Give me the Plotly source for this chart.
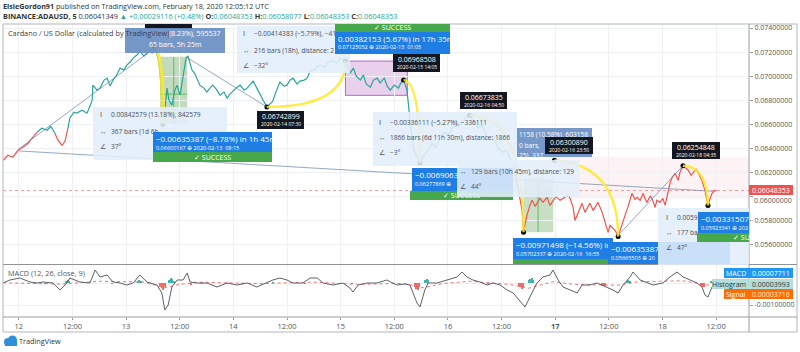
import plotly.graph_objects as go
from datetime import datetime

# ---------------- data ----------------
price_times = [
    "2020-02-11 20:30", "2020-02-11 21:35", "2020-02-11 22:40", "2020-02-11 23:50",
    "2020-02-12 00:55", "2020-02-12 02:05", "2020-02-12 03:10", "2020-02-12 04:05",
    "2020-02-12 05:10", "2020-02-12 06:20", "2020-02-12 07:10", "2020-02-12 08:05",
    "2020-02-12 08:45", "2020-02-12 09:40", "2020-02-12 10:20", "2020-02-12 11:00",
    "2020-02-12 11:25", "2020-02-12 12:20", "2020-02-12 13:00", "2020-02-12 14:10",
    "2020-02-12 15:15", "2020-02-12 15:55", "2020-02-12 16:25", "2020-02-12 16:35",
    "2020-02-12 17:30", "2020-02-12 18:10", "2020-02-12 19:05", "2020-02-12 19:45",
    "2020-02-12 20:25", "2020-02-12 21:05", "2020-02-12 22:00", "2020-02-12 22:40",
    "2020-02-12 23:30", "2020-02-13 00:10", "2020-02-13 00:55", "2020-02-13 01:35",
    "2020-02-13 02:25", "2020-02-13 03:05", "2020-02-13 04:00", "2020-02-13 04:40",
    "2020-02-13 05:20", "2020-02-13 05:50", "2020-02-13 06:30", "2020-02-13 06:55",
    "2020-02-13 07:20", "2020-02-13 07:50", "2020-02-13 08:00", "2020-02-13 08:15",
    "2020-02-13 08:40", "2020-02-13 09:10", "2020-02-13 09:35", "2020-02-13 10:15",
    "2020-02-13 10:55", "2020-02-13 11:25", "2020-02-13 12:05", "2020-02-13 12:45",
    "2020-02-13 13:10", "2020-02-13 13:25", "2020-02-13 13:50", "2020-02-13 14:20",
    "2020-02-13 14:45", "2020-02-13 15:25", "2020-02-13 15:50", "2020-02-13 16:30",
    "2020-02-13 17:25", "2020-02-13 18:05", "2020-02-13 18:45", "2020-02-13 19:25",
    "2020-02-13 20:20", "2020-02-13 21:00", "2020-02-13 21:55", "2020-02-13 22:35",
    "2020-02-13 23:15", "2020-02-13 23:55", "2020-02-14 00:50", "2020-02-14 01:30",
    "2020-02-14 02:25", "2020-02-14 03:05", "2020-02-14 03:45", "2020-02-14 04:25",
    "2020-02-14 05:15", "2020-02-14 06:00", "2020-02-14 06:40", "2020-02-14 07:30",
    "2020-02-14 08:10", "2020-02-14 08:50", "2020-02-14 09:30", "2020-02-14 10:25",
    "2020-02-14 11:20", "2020-02-14 12:00", "2020-02-14 12:40", "2020-02-14 13:20",
    "2020-02-14 14:15", "2020-02-14 14:55", "2020-02-14 15:50", "2020-02-14 16:30",
    "2020-02-14 17:10", "2020-02-14 18:00", "2020-02-14 18:45", "2020-02-14 19:25",
    "2020-02-14 20:30", "2020-02-14 21:10", "2020-02-14 22:15", "2020-02-14 23:10",
    "2020-02-14 23:50", "2020-02-15 01:05", "2020-02-15 01:45", "2020-02-15 02:10",
    "2020-02-15 02:50", "2020-02-15 03:30", "2020-02-15 04:25", "2020-02-15 05:05",
    "2020-02-15 05:45", "2020-02-15 06:40", "2020-02-15 07:20", "2020-02-15 08:10",
    "2020-02-15 08:50", "2020-02-15 09:45", "2020-02-15 10:25", "2020-02-15 11:05",
    "2020-02-15 12:00", "2020-02-15 12:55", "2020-02-15 13:35", "2020-02-15 14:05",
    "2020-02-15 14:50", "2020-02-15 15:15", "2020-02-15 15:45", "2020-02-15 16:25",
    "2020-02-15 17:20", "2020-02-15 17:45", "2020-02-15 18:40", "2020-02-15 19:35",
    "2020-02-15 20:25", "2020-02-15 21:20", "2020-02-15 22:15", "2020-02-15 23:10",
    "2020-02-16 00:00", "2020-02-16 00:55", "2020-02-16 01:50", "2020-02-16 02:40",
    "2020-02-16 03:50", "2020-02-16 04:50", "2020-02-16 05:50", "2020-02-16 06:45",
    "2020-02-16 07:40", "2020-02-16 08:30", "2020-02-16 09:25", "2020-02-16 10:20",
    "2020-02-16 11:15", "2020-02-16 12:05", "2020-02-16 13:00", "2020-02-16 13:55",
    "2020-02-16 14:45", "2020-02-16 15:30", "2020-02-16 16:10", "2020-02-16 16:35",
    "2020-02-16 16:55", "2020-02-16 17:40", "2020-02-16 18:20", "2020-02-16 18:50",
    "2020-02-16 19:30", "2020-02-16 19:55", "2020-02-16 20:35", "2020-02-16 21:15",
    "2020-02-16 22:10", "2020-02-16 22:50", "2020-02-16 23:30", "2020-02-17 00:10",
    "2020-02-17 01:05", "2020-02-17 02:10", "2020-02-17 02:50", "2020-02-17 03:20",
    "2020-02-17 04:00", "2020-02-17 04:25", "2020-02-17 05:05", "2020-02-17 06:00",
    "2020-02-17 06:40", "2020-02-17 07:20", "2020-02-17 07:45", "2020-02-17 08:30",
    "2020-02-17 08:55", "2020-02-17 09:35", "2020-02-17 10:30", "2020-02-17 11:10",
    "2020-02-17 11:50", "2020-02-17 12:15", "2020-02-17 12:45", "2020-02-17 13:25",
    "2020-02-17 14:05", "2020-02-17 14:30", "2020-02-17 15:10", "2020-02-17 15:50",
    "2020-02-17 16:15", "2020-02-17 16:45", "2020-02-17 17:10", "2020-02-17 17:50",
    "2020-02-17 18:20", "2020-02-17 19:00", "2020-02-17 19:40", "2020-02-17 20:05",
    "2020-02-17 20:30", "2020-02-17 21:15", "2020-02-17 21:40", "2020-02-17 22:20",
    "2020-02-17 22:45", "2020-02-17 23:25", "2020-02-18 00:05", "2020-02-18 00:35",
    "2020-02-18 01:15", "2020-02-18 01:40", "2020-02-18 02:10", "2020-02-18 02:50",
    "2020-02-18 03:30", "2020-02-18 03:55", "2020-02-18 04:35", "2020-02-18 05:15",
    "2020-02-18 05:45", "2020-02-18 06:25", "2020-02-18 06:50", "2020-02-18 07:30",
    "2020-02-18 07:55", "2020-02-18 08:25", "2020-02-18 08:50", "2020-02-18 09:30",
    "2020-02-18 10:00", "2020-02-18 10:10", "2020-02-18 10:40", "2020-02-18 11:05",
    "2020-02-18 11:45", "2020-02-18 12:05",
]
price_values = [
    0.06300, 0.06342, 0.06325, 0.06383,
    0.06408, 0.06442, 0.06492, 0.06533,
    0.06567, 0.06550, 0.06583, 0.06525,
    0.06467, 0.06425, 0.06458, 0.06567,
    0.06650, 0.06700, 0.06692, 0.06717,
    0.06692, 0.06750, 0.06800, 0.06925,
    0.06883, 0.06900, 0.06967, 0.06983,
    0.06917, 0.06967, 0.07017, 0.07067,
    0.07050, 0.07092, 0.07117, 0.07150,
    0.07175, 0.07208, 0.07167, 0.07192,
    0.07210, 0.07192, 0.07235555, 0.07175,
    0.07117, 0.06925, 0.06758, 0.06600167,
    0.06717, 0.06900, 0.06800, 0.06758,
    0.06883, 0.06925, 0.06842, 0.06983,
    0.07092, 0.07150, 0.07167, 0.07092,
    0.07050, 0.07017, 0.06983, 0.06925,
    0.06900, 0.06867, 0.06900, 0.06925,
    0.06883, 0.06842, 0.06867, 0.06817,
    0.06850, 0.06875, 0.06908, 0.06925,
    0.06883, 0.06900, 0.06933, 0.06958,
    0.06900, 0.06842, 0.06800, 0.06742899,
    0.06767, 0.06792, 0.06867, 0.06950,
    0.06917, 0.06925, 0.06967, 0.06983,
    0.06933, 0.06958, 0.06967, 0.06983,
    0.07042, 0.07050, 0.07083, 0.07092,
    0.07075, 0.07117, 0.07125, 0.07108,
    0.07150, 0.07125052, 0.07067, 0.07025,
    0.07067, 0.07000, 0.06967, 0.07008,
    0.06933, 0.06908, 0.06967, 0.06983,
    0.06942, 0.06983, 0.06917, 0.06883,
    0.06925, 0.06900, 0.06950, 0.06968508,
    0.06883, 0.06717, 0.06550, 0.06383,
    0.06300, 0.06277869, 0.06342, 0.06383,
    0.06442, 0.06408, 0.06483, 0.06533,
    0.06508, 0.06567, 0.06617, 0.06592,
    0.06650, 0.06673835, 0.06617, 0.06567,
    0.06592, 0.06508, 0.06467, 0.06483,
    0.06400, 0.06367, 0.06383, 0.06317,
    0.06258, 0.06092, 0.05967, 0.05883,
    0.05702337, 0.05842, 0.05925, 0.05967,
    0.05917, 0.05942, 0.05983, 0.05950,
    0.05992, 0.05925, 0.05967, 0.06000,
    0.05967, 0.05992, 0.06008, 0.05983,
    0.05908, 0.05800, 0.05867, 0.05942,
    0.05867, 0.05917, 0.05942, 0.05883,
    0.05908, 0.05950, 0.05867, 0.05775,
    0.05700, 0.05758, 0.05742, 0.05717,
    0.05665503, 0.05717, 0.05800, 0.05867,
    0.05908, 0.05983, 0.06025, 0.05975,
    0.05992, 0.05967, 0.06025, 0.05983,
    0.05950, 0.06000, 0.05983, 0.05908,
    0.05967, 0.05950, 0.05983, 0.05925,
    0.06050, 0.06108, 0.06158, 0.06192,
    0.06133, 0.06200, 0.06254848, 0.06233,
    0.06217, 0.06175, 0.06192, 0.06225,
    0.06200, 0.06167, 0.06133, 0.06050,
    0.05942, 0.05923341, 0.05983, 0.06025,
    0.06050, 0.06048353,
]
# periods drawn in the falling (red) colour
down_spans = [
    ("2020-02-11 20:00", "2020-02-12 04:05"),
    ("2020-02-12 08:05", "2020-02-12 11:00"),
    ("2020-02-16 14:45", "2020-02-18 13:00"),
]

# points marked by the drawing tools
key_times = ["2020-02-13 06:30", "2020-02-13 08:15", "2020-02-14 07:30", "2020-02-15 01:05",
             "2020-02-15 14:05", "2020-02-15 17:45", "2020-02-16 04:50", "2020-02-16 16:55",
             "2020-02-16 23:50", "2020-02-17 14:05", "2020-02-18 04:35", "2020-02-18 10:10"]
key_prices = [0.07235555, 0.06600167, 0.06742899, 0.07125052,
              0.06968508, 0.06277869, 0.06673835, 0.05702337,
              0.06300890, 0.05665503, 0.06254848, 0.05923341]
last_price = 0.06048353

# MACD pane
macd_times = [
    "2020-02-11 20:30", "2020-02-11 22:00", "2020-02-12 00:15", "2020-02-12 02:30", "2020-02-12 04:05",
    "2020-02-12 05:25", "2020-02-12 07:40", "2020-02-12 09:15", "2020-02-12 10:45", "2020-02-12 11:25",
    "2020-02-12 13:40", "2020-02-12 15:55", "2020-02-12 17:05", "2020-02-12 18:10", "2020-02-12 19:45",
    "2020-02-12 21:05", "2020-02-12 22:40", "2020-02-13 00:10", "2020-02-13 01:35", "2020-02-13 03:05",
    "2020-02-13 04:40", "2020-02-13 06:55", "2020-02-13 08:00", "2020-02-13 08:40", "2020-02-13 09:25",
    "2020-02-13 10:15", "2020-02-13 11:25", "2020-02-13 12:45", "2020-02-13 13:40", "2020-02-13 14:20",
    "2020-02-13 15:50", "2020-02-13 18:05", "2020-02-13 20:20", "2020-02-13 22:35", "2020-02-14 00:50",
    "2020-02-14 03:05", "2020-02-14 05:15", "2020-02-14 07:30", "2020-02-14 08:50", "2020-02-14 10:25",
    "2020-02-14 12:00", "2020-02-14 13:20", "2020-02-14 15:35", "2020-02-14 17:10", "2020-02-14 18:45",
    "2020-02-14 20:05", "2020-02-14 22:15", "2020-02-15 00:30", "2020-02-15 02:05", "2020-02-15 02:45",
    "2020-02-15 03:55", "2020-02-15 05:55", "2020-02-15 08:10", "2020-02-15 10:20", "2020-02-15 12:35",
    "2020-02-15 14:25", "2020-02-15 15:30", "2020-02-15 17:05", "2020-02-15 17:45", "2020-02-15 18:50",
    "2020-02-15 19:35", "2020-02-15 21:35", "2020-02-15 23:50", "2020-02-16 02:00", "2020-02-16 03:10",
    "2020-02-16 04:15", "2020-02-16 05:35", "2020-02-16 07:10", "2020-02-16 08:45", "2020-02-16 10:05",
    "2020-02-16 11:40", "2020-02-16 13:15", "2020-02-16 14:35", "2020-02-16 16:35", "2020-02-16 17:15",
    "2020-02-16 18:20", "2020-02-16 19:55", "2020-02-16 21:15", "2020-02-16 22:50", "2020-02-16 23:30",
    "2020-02-17 00:40", "2020-02-17 01:45", "2020-02-17 03:20", "2020-02-17 04:55", "2020-02-17 06:00",
    "2020-02-17 07:45", "2020-02-17 09:20", "2020-02-17 11:35", "2020-02-17 12:55", "2020-02-17 14:05",
    "2020-02-17 15:10", "2020-02-17 16:45", "2020-02-17 17:25", "2020-02-17 19:00", "2020-02-17 20:30",
    "2020-02-17 21:55", "2020-02-18 00:05", "2020-02-18 01:40", "2020-02-18 03:15", "2020-02-18 04:35",
    "2020-02-18 06:10", "2020-02-18 07:45", "2020-02-18 08:50", "2020-02-18 09:30", "2020-02-18 10:10",
    "2020-02-18 11:05", "2020-02-18 12:05",
]
macd_values = [
    0.000000, 0.000136, 0.000227, 0.000045, 0.000000,
    0.000045, 0.000000, -0.000318, 0.000000, 0.000227,
    0.000045, 0.000000, 0.000591, 0.000273, 0.000364,
    0.000045, 0.000000, -0.000091, 0.000000, 0.000364,
    0.000045, -0.000091, -0.000455, -0.001227, -0.001000,
    -0.000182, 0.000136, 0.000136, 0.000455, 0.000045,
    0.000000, 0.000000, -0.000182, 0.000000, -0.000091,
    0.000000, -0.000182, 0.000000, 0.000136, 0.000227,
    0.000136, 0.000000, 0.000000, 0.000227, 0.000227,
    0.000000, -0.000091, 0.000000, -0.000227, -0.000409,
    -0.000091, 0.000000, 0.000000, 0.000136, -0.000091,
    -0.000045, -0.000091, -0.000909, -0.001091, -0.000318,
    0.000000, 0.000000, 0.000136, 0.000273, 0.000500,
    0.000273, 0.000136, 0.000045, -0.000091, 0.000000,
    -0.000091, -0.000318, -0.000455, -0.000909, -0.001091,
    -0.000636, 0.000000, 0.000273, 0.000364, 0.000591,
    0.000136, -0.000182, -0.000318, -0.000455, -0.000091,
    -0.000091, 0.000000, -0.000182, -0.000318, -0.000455,
    -0.000091, 0.000273, 0.000500, 0.000136, 0.000000,
    -0.000091, 0.000000, 0.000273, 0.000500, 0.000273,
    0.000136, 0.000000, -0.000182, -0.000545, -0.000636,
    -0.000182, 0.000077,
]
signal_times = ["2020-02-11 20:30", "2020-02-12 09:30", "2020-02-12 18:00", "2020-02-13 04:00",
                "2020-02-13 08:40", "2020-02-13 11:30", "2020-02-13 16:00", "2020-02-14 06:00",
                "2020-02-14 18:00", "2020-02-15 03:30", "2020-02-15 14:00", "2020-02-15 18:30",
                "2020-02-15 23:00", "2020-02-16 05:00", "2020-02-16 14:00", "2020-02-16 18:00",
                "2020-02-16 23:30", "2020-02-17 04:30", "2020-02-17 14:30", "2020-02-17 18:30",
                "2020-02-18 04:30", "2020-02-18 10:30", "2020-02-18 12:05"]
signal_values = [0.00001, -0.00005, 0.00008, 0.00004,
                 -0.00022, -0.00008, 0.00004, -0.00003,
                 0.00004, -0.00006, -0.00002, -0.00022,
                 -0.00002, 0.00008, -0.00007, -0.00024,
                 0.00006, -0.00007, -0.00010, 0.00006,
                 0.00010, -0.00010, 0.00003716]
hist_times = ["2020-02-12 06:00", "2020-02-12 10:40", "2020-02-12 11:00", "2020-02-12 11:20",
              "2020-02-12 21:00", "2020-02-13 02:40", "2020-02-13 03:00", "2020-02-13 03:20",
              "2020-02-13 07:40", "2020-02-13 08:00", "2020-02-13 08:20", "2020-02-13 08:40",
              "2020-02-13 09:40", "2020-02-13 10:00", "2020-02-13 10:20", "2020-02-13 10:40",
              "2020-02-13 14:30", "2020-02-13 17:00", "2020-02-14 02:00", "2020-02-14 09:00",
              "2020-02-14 16:00", "2020-02-15 02:40", "2020-02-15 12:00",
              "2020-02-15 16:40", "2020-02-15 17:00", "2020-02-15 17:20", "2020-02-15 17:40",
              "2020-02-15 19:00", "2020-02-15 19:20", "2020-02-15 19:40", "2020-02-16 09:00",
              "2020-02-16 15:50", "2020-02-16 16:10", "2020-02-16 16:30", "2020-02-16 16:50",
              "2020-02-16 18:10", "2020-02-16 18:30", "2020-02-16 18:50", "2020-02-16 19:10",
              "2020-02-17 10:30", "2020-02-17 10:50", "2020-02-17 11:10",
              "2020-02-17 16:00", "2020-02-17 16:20", "2020-02-17 16:40",
              "2020-02-18 08:40", "2020-02-18 09:00", "2020-02-18 09:20",
              "2020-02-18 11:00", "2020-02-18 11:20"]
hist_values = [-0.00004, 0.00008, 0.00012, 0.00007,
               -0.00004, 0.00010, 0.00015, 0.00008,
               -0.00012, -0.00022, -0.00030, -0.00018,
               0.00014, 0.00022, 0.00018, 0.00010,
               -0.00007, -0.00004, -0.00004, 0.00004,
               -0.00004, -0.00004, -0.00003,
               -0.00016, -0.00026, -0.00030, -0.00020,
               0.00014, 0.00019, 0.00014, -0.00004,
               -0.00014, -0.00020, -0.00025, -0.00020,
               0.00014, 0.00020, 0.00022, 0.00014,
               -0.00008, -0.00013, -0.00012,
               0.00010, 0.00014, 0.00010,
               -0.00013, -0.00020, -0.00018,
               0.00007, 0.00005]

price_ticks = [0.056, 0.058, 0.060, 0.062, 0.064, 0.066, 0.068, 0.070, 0.072, 0.074]
time_ticks = ["2020-02-12 00:00", "2020-02-12 12:00", "2020-02-13 00:00", "2020-02-13 12:00",
              "2020-02-14 00:00", "2020-02-14 12:00", "2020-02-15 00:00", "2020-02-15 12:00",
              "2020-02-16 00:00", "2020-02-16 12:00", "2020-02-17 00:00", "2020-02-17 12:00",
              "2020-02-18 00:00", "2020-02-18 12:00"]
time_tick_labels = ["12", "12:00", "13", "12:00", "14", "12:00", "15", "12:00",
                    "16", "12:00", "<b>17</b>", "12:00", "18", "12:00"]

# ---------------- style ----------------
FONT = "Open Sans"
TEAL = "#26a69a"
RED = "#ef5350"
GRID = "#eef0f4"
FRAME = "#b3b6bc"
LIGHT = "rgba(226,238,251,0.88)"
DARKBOX = "rgba(108,144,196,0.93)"
BLUE = "#1e7ee4"
GREEN = "#47a84b"
BLACK = "#131722"
YELLOW = "rgba(255,233,40,0.85)"
TREND = "rgba(110,140,175,0.75)"
STAT = 6.6

# plot-area geometry in page pixels (for the screen-anchored overlays)
L, R, TOP, BOT = 3, 749, 24, 317
PW, PH = R - L, BOT - TOP


def ax(px):
    return (px - L) / PW


def ay(py):
    return (BOT - py) / PH


def ts(s):
    return datetime.strptime(s, "%Y-%m-%d %H:%M")


def is_down(t0, t1):
    mid = ts(t0) + (ts(t1) - ts(t0)) / 2
    return any(ts(a) <= mid <= ts(b) for a, b in down_spans)


fig = go.Figure()

# price line, coloured by direction period
segs = []
cur_col, cx, cy = None, [], []
for i in range(len(price_times) - 1):
    col = RED if is_down(price_times[i], price_times[i + 1]) else TEAL
    if col != cur_col:
        if cx:
            segs.append((cur_col, cx, cy))
        cur_col, cx, cy = col, [price_times[i]], [price_values[i]]
    cx.append(price_times[i + 1])
    cy.append(price_values[i + 1])
segs.append((cur_col, cx, cy))
for col, xs, ys in segs:
    fig.add_trace(go.Scatter(x=xs, y=ys, mode="lines", line=dict(color=col, width=1.2),
                             xaxis="x", yaxis="y", hoverinfo="skip"))

fig.add_trace(go.Scatter(x=key_times, y=key_prices, mode="markers",
                         marker=dict(color="#000", size=5), xaxis="x", yaxis="y", hoverinfo="skip"))

# MACD pane
hist_cols = [TEAL if v >= 0 else RED for v in hist_values]
fig.add_trace(go.Bar(x=hist_times, y=hist_values, marker=dict(color=hist_cols, line=dict(width=0)),
                     width=1.1e6, xaxis="x2", yaxis="y2", hoverinfo="skip", opacity=0.85))
fig.add_trace(go.Scatter(x=signal_times, y=signal_values, mode="lines",
                         line=dict(color="rgba(239,83,80,0.8)", width=1, dash="dot"),
                         xaxis="x2", yaxis="y2", hoverinfo="skip"))
fig.add_trace(go.Scatter(x=macd_times, y=macd_values, mode="lines",
                         line=dict(color="#5d606b", width=1), xaxis="x2", yaxis="y2", hoverinfo="skip"))

# ---------------- shapes ----------------
shapes = []


def dpt(t):
    return t.replace(" ", "_")


def data_rect(t0, t1, p0, p1, fill, line=None, layer="below"):
    shapes.append(dict(type="rect", xref="x", yref="y", x0=t0, x1=t1, y0=p0, y1=p1,
                       fillcolor=fill, line=dict(width=1 if line else 0, color=line or fill), layer=layer))


# shaded zones from the drawing tools
data_rect("2020-02-16 23:30", "2020-02-18 19:30", 0.0633, 0.0598, "rgba(242,54,69,0.06)")
data_rect("2020-02-13 07:35", "2020-02-13 13:40", 0.0716, 0.06600167, "rgba(120,175,110,0.45)")
data_rect("2020-02-16 16:55", "2020-02-16 23:35", 0.0615, 0.05702337, "rgba(120,175,110,0.40)")
data_rect("2020-02-15 01:05", "2020-02-15 14:55", 0.07125052, 0.0684, "rgba(206,150,216,0.45)",
          line="rgba(171,71,188,0.8)")
for t0, t1, p in [("2020-02-13 07:35", "2020-02-13 13:40", 0.0685), ("2020-02-16 16:55", "2020-02-16 23:35", 0.0602)]:
    shapes.append(dict(type="line", xref="x", yref="y", x0=t0, x1=t1, y0=p, y1=p,
                       line=dict(color="rgba(76,175,80,0.8)", width=1)))
for t, p0, p1 in [("2020-02-13 10:40", 0.0716, 0.06600167), ("2020-02-16 20:10", 0.0615, 0.05702337)]:
    shapes.append(dict(type="line", xref="x", yref="y", x0=t, x1=t, y0=p0, y1=p1,
                       line=dict(color="rgba(76,175,80,0.8)", width=1)))

# trend lines
for t0, p0, t1, p1 in [
    ("2020-02-11 23:55", 0.06392976, "2020-02-13 06:30", 0.07235555),
    ("2020-02-13 13:30", 0.07157282, "2020-02-14 07:30", 0.06742899),
    ("2020-02-12 00:00", 0.06377818, "2020-02-18 11:30", 0.06041707),
    ("2020-02-17 13:50", 0.05665503, "2020-02-18 04:35", 0.06254848),
]:
    shapes.append(dict(type="line", xref="x", yref="y", x0=t0, y0=p0, x1=t1, y1=p1,
                       line=dict(color=TREND, width=1), layer="above"))

# last price line
shapes.append(dict(type="line", xref="paper", yref="y", x0=0, x1=1, y0=last_price, y1=last_price,
                   line=dict(color="rgba(239,83,80,0.55)", width=1, dash="dot"), layer="above"))

# yellow move arcs
for (t0, p0), (tc, pc), (t1, p1), w in [
    (("2020-02-13 06:30", 0.07235555), ("2020-02-13 08:15", 0.0717), ("2020-02-13 08:15", 0.06600167), 4),
    (("2020-02-14 07:30", 0.06742899), ("2020-02-15 01:05", 0.06742899), ("2020-02-15 01:05", 0.07125052), 2.5),
    (("2020-02-15 14:05", 0.06968508), ("2020-02-15 17:45", 0.0695), ("2020-02-15 17:45", 0.06277869), 2.5),
    (("2020-02-16 04:50", 0.06673835), ("2020-02-16 16:55", 0.0667), ("2020-02-16 16:55", 0.05702337), 2.5),
    (("2020-02-16 23:50", 0.06300890), ("2020-02-17 14:05", 0.0626), ("2020-02-17 14:05", 0.05665503), 2.5),
    (("2020-02-18 04:35", 0.06254848), ("2020-02-18 10:00", 0.0625), ("2020-02-18 10:10", 0.05923341), 2.5),
]:
    shapes.append(dict(type="path", xref="x", yref="y", layer="above",
                       path=f"M {dpt(t0)},{p0} Q {dpt(tc)},{pc} {dpt(t1)},{p1}",
                       line=dict(color=YELLOW, width=w)))


def pline(x0, y0, x1, y1, color=FRAME, width=1):
    shapes.append(dict(type="line", xref="paper", yref="paper", x0=ax(x0), y0=ay(y0), x1=ax(x1), y1=ay(y1),
                       line=dict(color=color, width=width), layer="above"))


# frame
pline(3, 24, 797, 24)
pline(3, 24, 3, 332)
pline(797, 24, 797, 332)
pline(749, 24, 749, 332, "#9a9da3")
pline(3, 264.5, 797, 264.5, "#8f9298")
pline(3, 317, 797, 317, "#9a9da3")
pline(3, 332, 797, 332)

# TradingView logo
for cxp, cyp, r in [(8, 342, 4), (12.5, 340, 4.5)]:
    shapes.append(dict(type="circle", xref="paper", yref="paper", x0=ax(cxp - r), x1=ax(cxp + r),
                       y0=ay(cyp + r), y1=ay(cyp - r), fillcolor="#2f8fd8", line=dict(width=0)))
shapes.append(dict(type="rect", xref="paper", yref="paper", x0=ax(5), x1=ax(17), y0=ay(346), y1=ay(341),
                   fillcolor="#2f8fd8", line=dict(width=0)))

# ---------------- annotations ----------------
ann = []


def rect(x0, y0, x1, y1, color):
    ann.append(dict(xref="paper", yref="paper", x=ax((x0 + x1) / 2), y=ay((y0 + y1) / 2),
                    xanchor="center", yanchor="middle", text=" ", width=x1 - x0, height=y1 - y0,
                    bgcolor=color, borderpad=0, borderwidth=0, showarrow=False, font=dict(size=1)))


def txt(px, py, s, size=7, color="#4a4e57", anchor="left"):
    ann.append(dict(xref="paper", yref="paper", x=ax(px), y=ay(py), xanchor=anchor, yanchor="middle",
                    text=s, showarrow=False, borderpad=0, borderwidth=0,
                    font=dict(size=size, color=color, family=FONT)))


def blue_label(x0, y0, x1, y1, l1, l2):
    rect(x0, y0, x1, y1, BLUE)
    txt(x0 + 3, y0 + 6.5, l1, 8, "white")
    txt(x0 + 3, y0 + 15.5, l2, 5.5, "white")


def green_bar(x0, y0, x1, y1, s="✓ SUCCESS", tx=None):
    rect(x0, y0, x1, y1, GREEN)
    if s:
        txt(tx if tx else (x0 + x1) / 2, (y0 + y1) / 2, s, 7, "white", "left" if tx else "center")


def stat_box(x0, y0, x1, y1, rows, icon_x, rows_y):
    rect(x0, y0, x1, y1, LIGHT)
    for (icon, s), ry in zip(rows, rows_y):
        if icon:
            txt(icon_x, ry, icon, 6.5, "#555")
        txt(icon_x + 11, ry, s, STAT)


def black_label(x0, y0, x1, y1, l1, l2):
    rect(x0, y0, x1, y1, BLACK)
    txt((x0 + x1) / 2, y0 + 5.5, l1, 7, "white", "center")
    txt((x0 + x1) / 2, y0 + 13, l2, 5, "white", "center")


# label partly hidden at top
rect(145, 24, 192, 29, BLACK)

# lower labels (their hidden parts are covered by other drawings)
blue_label(513, 238, 613, 259, "−0.00971498 (−14.56%) in 1", "0.05702337 ⊕ 2020-02-16  16:55")
green_bar(513, 259, 613, 264, s=None)
blue_label(608, 242, 730, 264, "−0.00635387", "0.05665503 ⊕ 20")
blue_label(412, 168, 513, 191, "−0.0069063", "0.06277869 ⊕")
green_bar(410, 191, 513, 200)

# dark measure label
rect(517, 128, 592, 157, DARKBOX)
txt(519, 134, "1158 (10.58%), 603158", 6.6, "white")
txt(519, 145, "0 bars,", 6.6, "white")
txt(519, 155, "25), 337", 6.6, "white")

# trend-line statistics boxes
stat_box(93, 107, 227, 160, [("Ⅰ", "0.00842579 (13.18%), 842579"),
                              ("↔", "367 bars (1d 6h"),
                              ("∠", "37°")], 100, [115, 131, 146])
stat_box(237, 26, 350, 73, [("Ⅰ", "−0.00414383 (−5.79%), −41"),
                             ("↔", "216 bars (18h), distance: 2"),
                             ("∠", "−32°")], 243, [34, 50, 65])
stat_box(373, 112, 517, 166, [("Ⅰ", "−0.00336111 (−5.27%), −336111"),
                              ("↔", "1866 bars (6d 11h 30m), distance: 1866"),
                              ("∠", "−3°")], 379, [122, 137, 152])
stat_box(457, 160, 580, 197, [("↔", "129 bars (10h 45m), distance: 129"),
                              ("∠", "44°")], 460, [171, 186])
stat_box(658, 208, 749, 265, [("Ⅰ", "0.0059"),
                              ("↔", "177 ba"),
                              ("∠", "47°")], 666, [217, 232, 247])

# result labels
blue_label(153, 132, 272, 152, "−0.00635387 (−8.78%) in 1h 45m", "0.06600167 ⊕ 2020-02-13  08:15")
green_bar(153, 152, 272, 162)
green_bar(335, 24, 450, 32)
blue_label(335, 32, 450, 54, "0.00382153 (5.67%) in 17h 35m", "0.07125052 ⊕ 2020-02-15  01:05")
blue_label(698, 212, 749, 233, "−0.00331507 (", "0.05923341 ⊕ 202")
green_bar(697, 233, 749, 242, "✓ SU", tx=733)

# price/time labels
black_label(257, 111, 304, 129, "0.06742899", "2020-02-14 07:30")
black_label(393, 54, 440, 72, "0.06968508", "2020-02-15 14:05")
black_label(460, 92, 507, 109, "0.06673835", "2020-02-16 04:50")
black_label(545, 137, 593, 154, "0.06300890", "2020-02-16 23:50")
black_label(672, 142, 720, 159, "0.06254848", "2020-02-18 04:35")

# top-left measure label and chart title
rect(125, 28, 225, 53, DARKBOX)
txt(169, 34, "(8.23%), 595537", 7, "white")
txt(175, 45, "65 bars, 5h 25m", 7, "white", "center")
txt(8, 33, "Cardano / US Dollar (calculated by TradingView)", 7.3, "#3c3f47")

# header
txt(3, 6, "<b>ElsieGordon91</b> published on TradingView.com, February 18, 2020 12:05:12 UTC", 7.2, "#333")
V = "<span style='color:#26a69a'>"
txt(3, 16, f"<b>BINANCE:ADAUSD, 5</b> 0.06041349 {V}▲</span> {V}+0.00029116 (+0.48%)</span> "
           f"<b>O:</b>{V}0.06048353</span> <b>H:</b>{V}0.06058077</span> "
           f"<b>L:</b>{V}0.06048353</span> <b>C:</b>{V}0.06048353</span>", 7.3, "#333")

# right-side value labels
rect(749, 185, 793, 195, "#ef5350")
txt(752, 190, "0.06048353", 7, "white")
txt(754, 200, "0.06000000", 7, "#555")   # 0.060 tick label, pushed just below the last-price tag
rect(724, 268, 793, 278, "#2196f3")
txt(746, 273, "MACD", 7, "white", "right")
txt(752, 273, "0.00007711", 7, "white")
rect(712, 279, 793, 289, "#b2dfdb")
txt(746, 284, "Histogram", 7, "#333", "right")
txt(752, 284, "0.00003993", 7, "#333")
rect(724, 289, 793, 299, "#ff6d00")
txt(746, 294, "Signal", 7, "white", "right")
txt(752, 294, "0.00003716", 7, "#ffe9c4")

txt(8, 273, "MACD (12, 26, close, 9)", 7.3, "#555")
txt(19, 341, "TradingView", 7.3, "#333")

# ---------------- layout ----------------
x_range = ["2020-02-11 20:28", "2020-02-18 19:21"]
price_tick_text = ["" if abs(v - 0.060) < 1e-9 else f"{v:.8f}" for v in price_ticks]
fig.update_layout(
    width=800, height=352, margin=dict(l=L, r=800 - R, t=TOP, b=352 - BOT),
    paper_bgcolor="white", plot_bgcolor="white", showlegend=False, hovermode=False,
    bargap=0,
    xaxis=dict(domain=[0, 1], anchor="y", type="date", range=x_range, tickvals=time_ticks,
               showticklabels=False, ticks="", showgrid=True, gridcolor=GRID, zeroline=False, showline=False),
    xaxis2=dict(domain=[0, 1], anchor="y2", type="date", range=x_range, matches="x", tickvals=time_ticks,
                ticktext=time_tick_labels, ticks="outside", ticklen=2, tickcolor="#999",
                tickfont=dict(size=7.5, color="#555", family=FONT),
                showgrid=True, gridcolor=GRID, zeroline=False, showline=False),
    yaxis=dict(domain=[ay(264.5), 1], anchor="x", side="right", range=[0.0543333, 0.0743333],
               tickvals=price_ticks, ticktext=price_tick_text,
               ticks="outside", ticklen=3, tickcolor="#999",
               tickfont=dict(size=7, color="#555", family=FONT),
               showgrid=True, gridcolor=GRID, zeroline=False, showline=False),
    yaxis2=dict(domain=[0, ay(265)], anchor="x2", side="right", range=[-0.001545, 0.000818],
                tickvals=[-0.001, 0.0], ticktext=["-0.00100000", ""],
                ticks="outside", ticklen=3, tickcolor="#999",
                tickfont=dict(size=7, color="#555", family=FONT),
                showgrid=True, gridcolor=GRID, zeroline=False, showline=False),
    shapes=shapes, annotations=ann,
)

fig.write_html("out.html")
